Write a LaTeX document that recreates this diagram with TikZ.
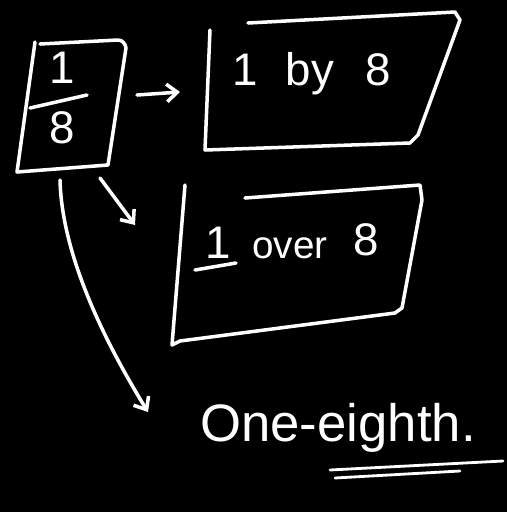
\documentclass[tikz,border=0pt]{standalone}
\usepackage{fontspec}
\setmainfont{Liberation Sans}
\usetikzlibrary{arrows.meta}
\begin{document}
\begin{tikzpicture}[x=0.02cm,y=-0.02cm,
  ink/.style={draw=white,line width=2pt,line cap=round,line join=round},
  hand/.style={text=white,inner sep=0pt,font=\fontsize{26}{26}\selectfont},
  small/.style={text=white,inner sep=0pt,font=\fontsize{22}{22}\selectfont},
  arr/.style={ink,-{Straight Barb[length=6pt,width=10pt]}}]
\fill[black] (0,0) rectangle (507,512);
\useasboundingbox (0,0) rectangle (507,512);
% box 1 : fraction
\draw[ink] (35,42) -- (17,172) -- (108,165) -- (126,48) to[out=100,in=0] (118,40) -- (40,44);
\node[hand] (num) at (62,68) {1};
\node[hand] (den) at (62,128) {8};
\draw[ink] (30,108) -- (87,95);
\coordinate (b1e) at (137,95);
\coordinate (b1s) at (100,178);
\coordinate (b1b) at (60,180);
% box 2
\draw[ink] (210,30) -- (205,150) -- (410,143) -- (418,135) -- (460,20) -- (455,12) -- (248,23);
\node[hand] (one2) at (245,70) {1};
\node[hand] (by2) at (310,74) {by};
\node[hand] (eight2) at (378,70) {8};
\coordinate (b2w) at (180,92);
% box 3
\draw[ink] (185,185) -- (172,345) -- (180,341) -- (395,313) -- (402,308) -- (422,200) -- (420,185) -- (245,198);
\node[hand] (one3) at (218,243) {1};
\draw[ink] (195,270) -- (236,263);
\node[small] (over3) at (290,248) {over};
\node[hand] (eight3) at (366,240) {8};
\coordinate (b3w) at (135,225);
% connectors
\draw[arr] (b1e) -- (b2w);
\draw[arr] (b1s) -- (b3w);
\coordinate (c4) at (148,412);
\draw[arr] (b1b) .. controls (62,260) and (110,350) .. (c4);
% answer
\node[hand,font=\fontsize{30}{30}\selectfont,anchor=west] (ans) at (200,428) {One-eighth.};
\draw[ink,line width=1.6pt] (330,470) -- (503,461);
\draw[ink,line width=1.6pt] (335,478) -- (460,471);
\end{tikzpicture}
\end{document}
